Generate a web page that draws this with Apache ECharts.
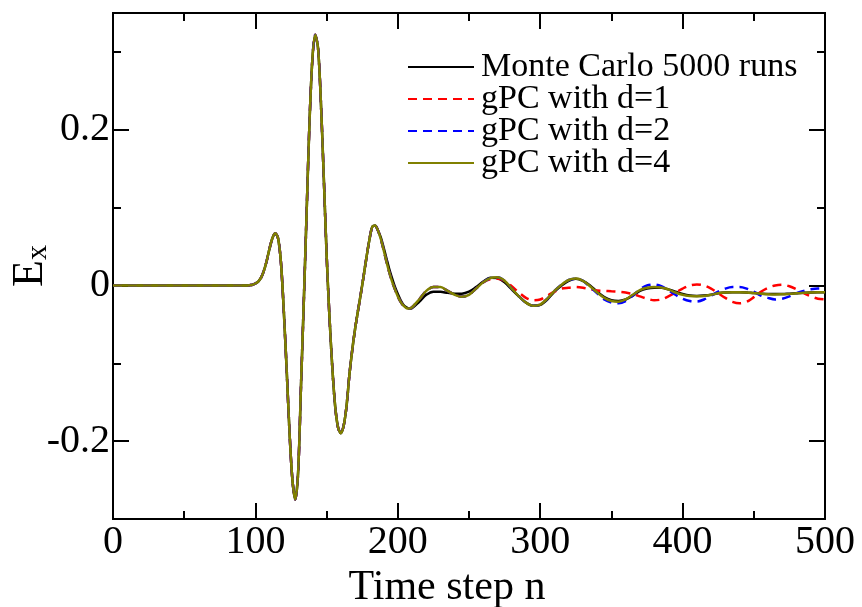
<!DOCTYPE html>
<html>
<head>
<meta charset="utf-8">
<script src="https://cdn.jsdelivr.net/npm/echarts@6/dist/echarts.min.js"></script>
<style>html,body{margin:0;padding:0;background:#fff}#c{width:862px;height:607px}</style>
</head>
<body>
<div id="c"></div>
<script>
// Shared pulse (all four curves coincide here)
var headSteps = [0, 90, 94, 96, 98, 100, 102, 104, 106, 108, 110, 112, 114, 116, 118, 120, 122, 124, 126, 128, 130, 132, 134, 136, 138, 140, 142, 144, 146, 148, 150, 152, 154, 156, 158, 160, 162, 164, 166, 168, 170, 172, 174, 176, 178, 180, 182, 184, 186];
var headValues = [0, 0, 0, 0.0004, 0.001, 0.0025, 0.005, 0.010, 0.019, 0.032, 0.048, 0.061, 0.067, 0.060, 0.028, -0.035, -0.110, -0.190, -0.250, -0.275, -0.240, -0.130, -0.020, 0.095, 0.210, 0.290, 0.322, 0.305, 0.235, 0.140, 0.040, -0.040, -0.105, -0.155, -0.182, -0.190, -0.180, -0.155, -0.115, -0.083, -0.056, -0.033, -0.011, 0.012, 0.036, 0.058, 0.075, 0.077, 0.071];

var tailSteps = [188, 190, 192, 194, 196, 198, 200, 202, 204, 206, 208, 210, 215, 220, 225, 230, 235, 240, 245, 250, 255, 260, 265, 270, 275, 280, 285, 290, 295, 300, 305, 310, 315, 320, 325, 330, 335, 340, 345, 350, 355, 360, 365, 370, 375, 380, 385, 390, 395, 400, 405, 410, 415, 420, 425, 430, 435, 440, 445, 450, 455, 460, 465, 470, 475, 480, 485, 490, 495, 500];

var monteCarloTail = [0.062, 0.049, 0.035, 0.021, 0.009, -0.002, -0.011, -0.019, -0.025, -0.028, -0.0295, -0.029, -0.021, -0.012, -0.008, -0.0082, -0.0095, -0.0105, -0.0105, -0.008, -0.002, 0.005, 0.010, 0.0095, 0.004, -0.005, -0.014, -0.022, -0.026, -0.025, -0.018, -0.008, 0.000, 0.006, 0.0085, 0.006, 0.000, -0.008, -0.015, -0.019, -0.020, -0.018, -0.013, -0.007, -0.004, -0.003, -0.003, -0.005, -0.008, -0.011, -0.013, -0.0135, -0.013, -0.012, -0.010, -0.009, -0.0086, -0.0086, -0.009, -0.0098, -0.0105, -0.011, -0.011, -0.011, -0.0105, -0.010, -0.0095, -0.009, -0.0087, -0.0086];

var gpc1Tail = [0.060, 0.046, 0.031, 0.017, 0.005, -0.005, -0.014, -0.021, -0.026, -0.029, -0.0295, -0.028, -0.018, -0.007, -0.002, -0.002, -0.007, -0.012, -0.0145, -0.012, -0.004, 0.004, 0.008, 0.0085, 0.006, -0.001, -0.009, -0.016, -0.019, -0.018, -0.013, -0.008, -0.004, -0.003, -0.002, -0.003, -0.005, -0.0065, -0.007, -0.0075, -0.008, -0.009, -0.011, -0.014, -0.017, -0.019, -0.018, -0.014, -0.009, -0.004, 0.000, 0.0013, 0.000, -0.004, -0.010, -0.016, -0.021, -0.023, -0.021, -0.015, -0.008, -0.003, 0.000, 0.001, -0.001, -0.005, -0.010, -0.014, -0.017, -0.018];

var gpc2Tail = [0.060, 0.046, 0.031, 0.017, 0.005, -0.005, -0.014, -0.021, -0.026, -0.029, -0.0295, -0.028, -0.018, -0.007, -0.002, -0.002, -0.007, -0.012, -0.0145, -0.012, -0.004, 0.004, 0.0095, 0.0105, 0.006, -0.004, -0.014, -0.022, -0.026, -0.0245, -0.017, -0.007, 0.001, 0.007, 0.0088, 0.006, -0.002, -0.010, -0.018, -0.022, -0.023, -0.020, -0.013, -0.005, 0.000, 0.0012, -0.001, -0.006, -0.012, -0.017, -0.020, -0.0205, -0.018, -0.013, -0.008, -0.004, -0.002, -0.002, -0.004, -0.008, -0.013, -0.016, -0.018, -0.017, -0.014, -0.010, -0.007, -0.005, -0.004, -0.004];

var gpc4Tail = [0.060, 0.046, 0.031, 0.017, 0.005, -0.005, -0.014, -0.021, -0.026, -0.029, -0.0295, -0.028, -0.018, -0.007, -0.002, -0.002, -0.007, -0.012, -0.0145, -0.012, -0.004, 0.004, 0.0095, 0.0105, 0.006, -0.004, -0.014, -0.022, -0.026, -0.0245, -0.017, -0.007, 0.001, 0.007, 0.0088, 0.006, -0.001, -0.009, -0.016, -0.020, -0.021, -0.018, -0.012, -0.006, -0.003, -0.002, -0.0025, -0.005, -0.009, -0.012, -0.0135, -0.014, -0.0135, -0.012, -0.010, -0.009, -0.0086, -0.0086, -0.009, -0.0098, -0.0106, -0.0112, -0.0115, -0.0113, -0.011, -0.010, -0.0095, -0.009, -0.0087, -0.0086];

var seriesNames = ['Monte Carlo 5000 runs', 'gPC with d=1', 'gPC with d=2', 'gPC with d=4'];
var xTicks = [0, 100, 200, 300, 400, 500];
var yLabelValues = [-0.2, 0, 0.2];
var yMinorValues = [-0.3, -0.1, 0.1, 0.3];

function build(tail) {
  var out = [];
  for (var i = 0; i < headSteps.length; i++) out.push([headSteps[i], headValues[i]]);
  for (var j = 0; j < tailSteps.length; j++) out.push([tailSteps[j], tail[j]]);
  return out;
}

var FONT = 'Liberation Serif';
var chart = echarts.init(document.getElementById('c'), null, {renderer: 'canvas'});

var baseY = {
  type: 'value', min: -0.3, max: 0.35,
  splitLine: {show: false},
  axisLine: {show: true, onZero: false, lineStyle: {color: '#000', width: 2}},
  axisLabel: {show: false}
};

chart.setOption({
  animation: false,
  backgroundColor: '#fff',
  grid: {left: 113, top: 13, right: 37, bottom: 88, containLabel: false, outerBoundsMode: 'none'},
  legend: {
    show: true,
    orient: 'vertical', left: 402, top: 45,
    itemWidth: 66, itemHeight: 20, itemGap: -2,
    itemStyle: {opacity: 0},
    textStyle: {fontFamily: FONT, fontSize: 34, lineHeight: 32, color: '#000', padding: [0, 0, 0, 2]},
    data: seriesNames
  },
  xAxis: [{
    type: 'value', min: 0, max: 500, interval: 100, position: 'bottom',
    name: 'Time step n', nameLocation: 'middle', nameGap: 41,
    nameTextStyle: {fontFamily: FONT, fontSize: 42, color: '#000', padding: [0, 44, 0, 0]},
    splitLine: {show: false},
    axisLine: {show: true, onZero: false, lineStyle: {color: '#000', width: 2}},
    axisTick: {show: true, inside: true, length: 16, lineStyle: {color: '#000', width: 2}},
    minorTick: {show: true, splitNumber: 2, length: 8, lineStyle: {color: '#000', width: 2}},
    axisLabel: {fontFamily: FONT, fontSize: 40, color: '#000', margin: 3,
      customValues: xTicks}
  }, {
    type: 'value', min: 0, max: 500, interval: 100, position: 'top',
    splitLine: {show: false},
    axisLine: {show: true, onZero: false, lineStyle: {color: '#000', width: 2}},
    axisTick: {show: true, inside: true, length: 16, lineStyle: {color: '#000', width: 2}},
    minorTick: {show: true, splitNumber: 2, length: 8, lineStyle: {color: '#000', width: 2}},
    axisLabel: {show: false}
  }],
  yAxis: [
    Object.assign({}, baseY, {
      position: 'left',
      name: '{e|E}{s|x}', nameLocation: 'middle', nameGap: 60, nameRotate: 90,
      nameMoveOverlap: false,
      nameTextStyle: {fontFamily: FONT, color: '#000',
        rich: {e: {fontFamily: FONT, fontSize: 44, color: '#000'},
               s: {fontFamily: FONT, fontSize: 30, color: '#000', padding: [16, 0, 0, 0]}}},
      axisTick: {show: true, inside: true, length: 16, customValues: yLabelValues, lineStyle: {color: '#000', width: 2}},
      axisLabel: {show: true, fontFamily: FONT, fontSize: 40, color: '#000', margin: 3,
        customValues: yLabelValues,
        formatter: function (v) { return v === 0 ? '0' : String(Math.round(v * 10) / 10); }}
    }),
    Object.assign({}, baseY, {
      position: 'left',
      axisTick: {show: true, inside: true, length: 8, customValues: yMinorValues, lineStyle: {color: '#000', width: 2}}
    }),
    Object.assign({}, baseY, {
      position: 'right',
      axisTick: {show: true, inside: true, length: 16, customValues: yLabelValues, lineStyle: {color: '#000', width: 2}}
    }),
    Object.assign({}, baseY, {
      position: 'right',
      axisTick: {show: true, inside: true, length: 8, customValues: yMinorValues, lineStyle: {color: '#000', width: 2}}
    })
  ],
  series: [
    {name: seriesNames[0], type: 'line', data: build(monteCarloTail), showSymbol: false, symbol: 'none', smooth: 0.3,
     lineStyle: {color: '#000000', width: 2.5}, itemStyle: {color: '#000000'}},
    {name: seriesNames[1], type: 'line', data: build(gpc1Tail), showSymbol: false, symbol: 'none', smooth: 0.3,
     lineStyle: {color: '#ff0000', width: 2.5, type: [9, 6]}, itemStyle: {color: '#ff0000'}},
    {name: seriesNames[2], type: 'line', data: build(gpc2Tail), showSymbol: false, symbol: 'none', smooth: 0.3,
     lineStyle: {color: '#0000ff', width: 2.5, type: [9, 6]}, itemStyle: {color: '#0000ff'}},
    {name: seriesNames[3], type: 'line', data: build(gpc4Tail), showSymbol: false, symbol: 'none', smooth: 0.3,
     lineStyle: {color: '#808000', width: 2.5}, itemStyle: {color: '#808000'}}
  ]
});
</script>
</body>
</html>
